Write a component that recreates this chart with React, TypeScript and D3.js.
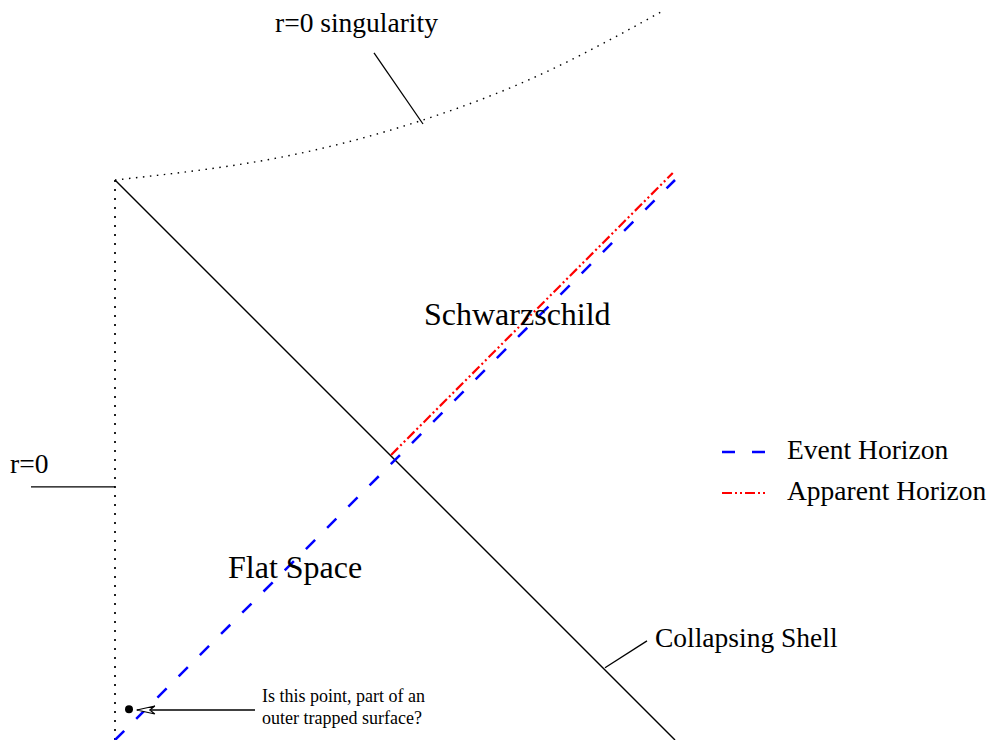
import React from "react";
import { scaleLinear, line, curveNatural } from "d3";

// diagram units: 1 unit = 56px, origin at the bottom of the r=0 line
const r0Axis: [number, number][] = [[0, 0], [0, 10]];
const singularity: [number, number][] = [
  [0, 10], [2.66, 10.35], [5.18, 10.97], [7.57, 11.87], [9.82, 13.04],
];
const collapsingShell: [number, number][] = [[0, 10], [10, 0]];
const eventHorizon: [number, number][] = [[0, 0], [10, 10]];
const apparentHorizon: [number, number][] = [[4.93, 5.09], [9.96, 10.125]];
const trappedPoint: [number, number] = [0.25, 0.55];

// pointer lines for the labels
const singularityPointer: [number, number][] = [[4.625, 12.27], [5.5, 11.0]];
const r0Pointer: [number, number][] = [[-1.5, 4.52], [0, 4.52]];
const shellPointer: [number, number][] = [[8.75, 1.29], [9.5, 1.77]];
const questionArrow: [number, number][] = [[2.5, 0.536], [0.39, 0.536]];

// labels
const bigLabels = [
  { text: "Schwarzschild", at: [5.518, 7.41] },
  { text: "Flat Space", at: [2.018, 2.893] },
];
const midLabels = [
  { text: "Collapsing Shell", at: [9.643, 1.661] },
  { text: "r=0 singularity", at: [2.857, 12.643] },
  { text: "r=0", at: [-1.875, 4.768] },
];
const questionLines = ["Is this point, part of an", "outer trapped surface?"];
const questionAt = [2.625, 0.679];

const legendItems = [
  { name: "Event Horizon", color: "#0000ff", dash: "13,17", width: 2.5 },
  { name: "Apparent Horizon", color: "#ff0000", dash: "10,3,2,3,2,3", width: 2 },
];

const W = 994;
const H = 740;
const FONT = "'Liberation Serif', 'Times New Roman', Times, serif";

export default function App() {
  const x = scaleLinear().domain([0, 10]).range([115, 675]);
  const y = scaleLinear().domain([0, 10]).range([740, 180]);
  const straight = line<[number, number]>()
    .x((d) => x(d[0]))
    .y((d) => y(d[1]));
  const curved = line<[number, number]>()
    .x((d) => x(d[0]))
    .y((d) => y(d[1]))
    .curve(curveNatural);

  const tip = questionArrow[1];
  const tx = x(tip[0]);
  const ty = y(tip[1]);

  return (
    <svg
      width={W}
      height={H}
      style={{ position: "absolute", left: 0, top: 0, background: "#fff" }}
      fontFamily={FONT}
    >
      {/* r=0 line */}
      <path d={straight(r0Axis) || ""} stroke="#222" strokeWidth={2} strokeDasharray="2,7" fill="none" />
      {/* singularity */}
      <path d={curved(singularity) || ""} stroke="#000" strokeWidth={1.4} strokeDasharray="1.5,5.5" fill="none" />
      {/* collapsing shell */}
      <path d={straight(collapsingShell) || ""} stroke="#000" strokeWidth={1.4} fill="none" />
      {/* horizons */}
      <path d={straight(eventHorizon) || ""} stroke="#0000ff" strokeWidth={2.5} strokeDasharray="13,17" fill="none" />
      <path d={straight(apparentHorizon) || ""} stroke="#ff0000" strokeWidth={2.2} strokeDasharray="10,3,2,3,2,3" fill="none" />

      {/* pointers */}
      {[singularityPointer, r0Pointer, shellPointer, questionArrow].map((p, i) => (
        <path key={i} d={straight(p) || ""} stroke="#000" strokeWidth={1.3} fill="none" />
      ))}
      <path
        d={`M${tx + 18},${ty - 4} L${tx},${ty} L${tx + 18},${ty + 4} L${tx + 13},${ty} Z`}
        fill="#fff"
        stroke="#000"
        strokeWidth={1.2}
      />
      <circle cx={x(trappedPoint[0])} cy={y(trappedPoint[1])} r={4} fill="#000" />

      {/* labels */}
      {bigLabels.map((l) => (
        <text key={l.text} x={x(l.at[0])} y={y(l.at[1])} fontSize={32} fill="#000">
          {l.text}
        </text>
      ))}
      {midLabels.map((l) => (
        <text key={l.text} x={x(l.at[0])} y={y(l.at[1])} fontSize={27.5} fill="#000">
          {l.text}
        </text>
      ))}
      {questionLines.map((t, i) => (
        <text key={t} x={x(questionAt[0])} y={y(questionAt[1]) + i * 22} fontSize={18} fill="#000">
          {t}
        </text>
      ))}

      {/* legend */}
      <g transform="translate(722,452)">
        {legendItems.map((d, i) => (
          <g key={d.name} transform={`translate(0,${i * 41})`}>
            <line x1={0} x2={45} y1={0} y2={0} stroke={d.color} strokeWidth={d.width} strokeDasharray={d.dash} />
            <text x={65} y={7} fontSize={27.5} fill="#000">
              {d.name}
            </text>
          </g>
        ))}
      </g>
    </svg>
  );
}
